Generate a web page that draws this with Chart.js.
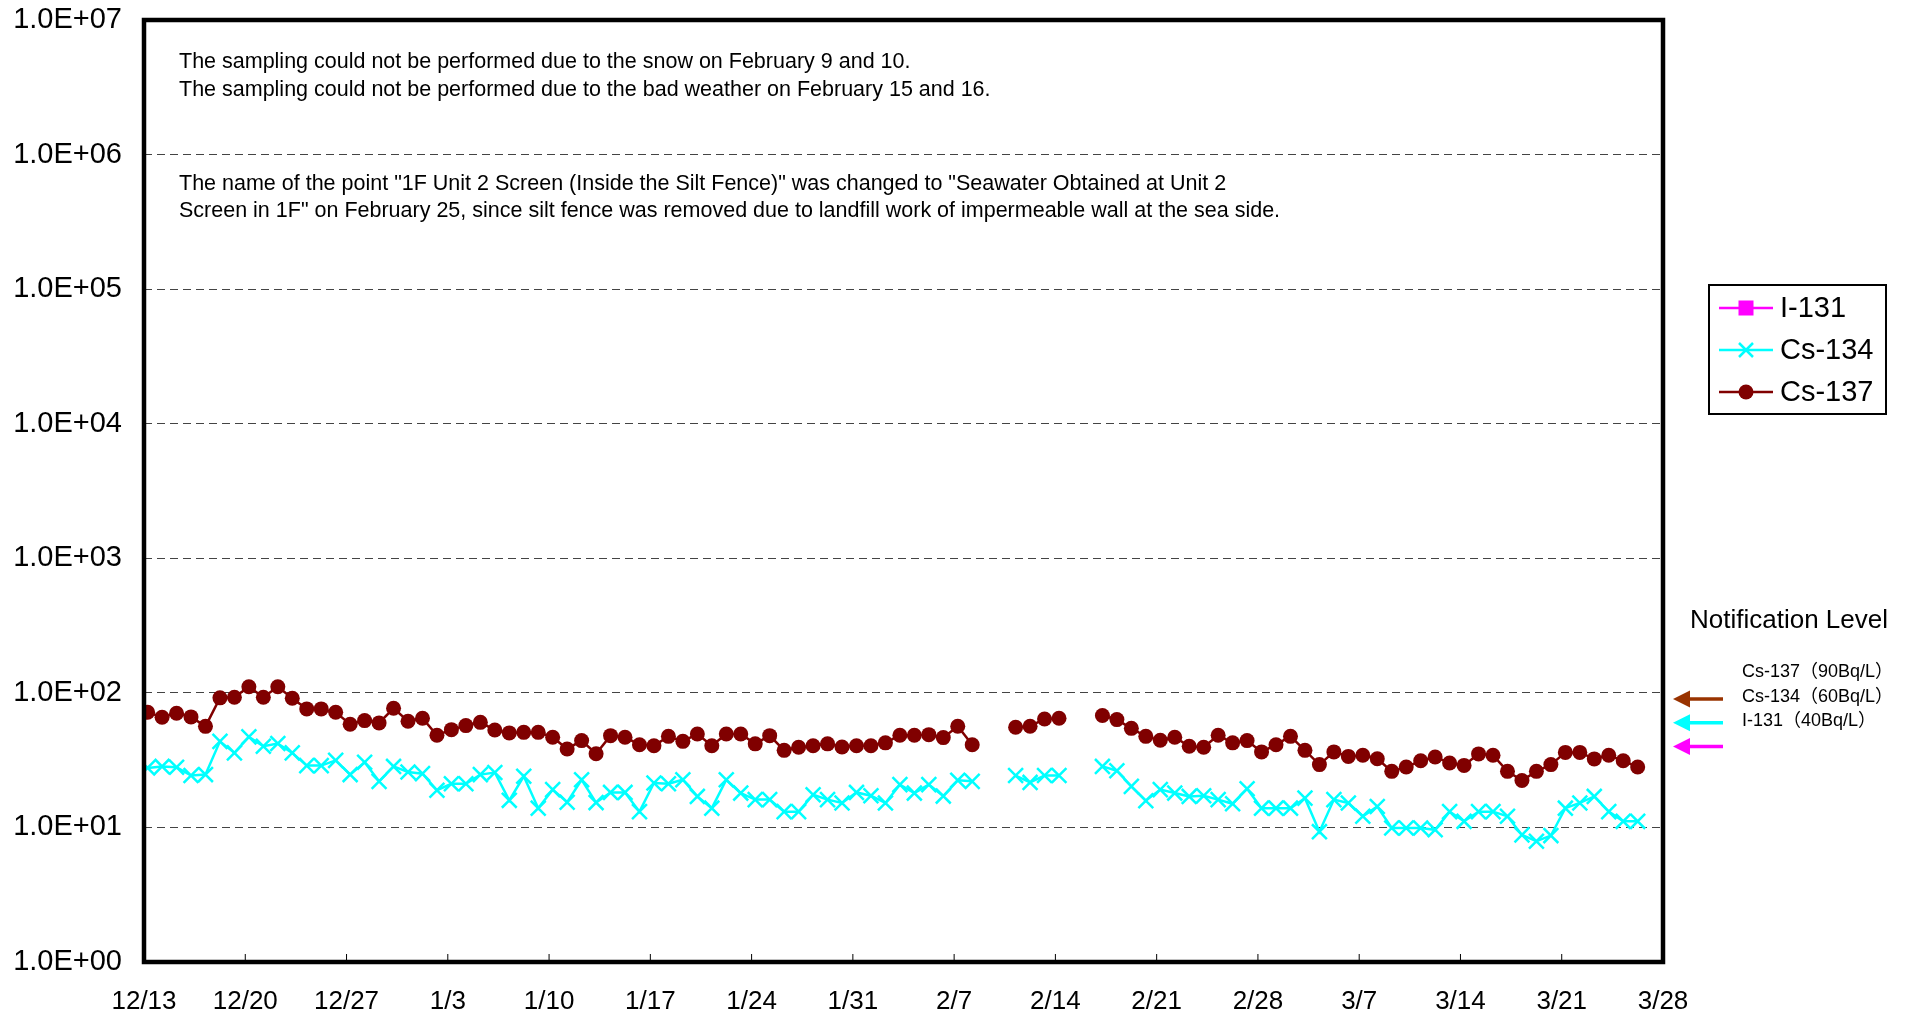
<!DOCTYPE html>
<html>
<head>
    <title>Seawater Obtained at Unit 2 Screen in 1F</title>
    <style>
        body { margin: 0; background: #fff; }
        #wrap { width: 1910px; height: 1018px; }
    </style>
    <script src="https://cdn.jsdelivr.net/npm/chart.js"></script>
</head>
<body>
    <div id="wrap"><canvas id="radChart" width="1910" height="1018"></canvas></div>

    <script>
        // weekly axis labels, 12/13 .. 3/28 (one every 7 days)
        const tickLabels = ['12/13', '12/20', '12/27', '1/3', '1/10', '1/17', '1/24', '1/31',
            '2/7', '2/14', '2/21', '2/28', '3/7', '3/14', '3/21', '3/28'];
        const daysPerTick = 7;
        const sampleHour = 0.25; // samples taken in the morning (fraction of a day)

        // sampling dates, 12/13 .. 3/26
        const sampleDates = [
            '12/13', '12/14', '12/15', '12/16', '12/17', '12/18', '12/19', '12/20', '12/21', '12/22',
            '12/23', '12/24', '12/25', '12/26', '12/27', '12/28', '12/29', '12/30', '12/31', '1/1',
            '1/2', '1/3', '1/4', '1/5', '1/6', '1/7', '1/8', '1/9', '1/10', '1/11',
            '1/12', '1/13', '1/14', '1/15', '1/16', '1/17', '1/18', '1/19', '1/20', '1/21',
            '1/22', '1/23', '1/24', '1/25', '1/26', '1/27', '1/28', '1/29', '1/30', '1/31',
            '2/1', '2/2', '2/3', '2/4', '2/5', '2/6', '2/7', '2/8', '2/9', '2/10',
            '2/11', '2/12', '2/13', '2/14', '2/15', '2/16', '2/17', '2/18', '2/19', '2/20',
            '2/21', '2/22', '2/23', '2/24', '2/25', '2/26', '2/27', '2/28', '3/1', '3/2',
            '3/3', '3/4', '3/5', '3/6', '3/7', '3/8', '3/9', '3/10', '3/11', '3/12',
            '3/13', '3/14', '3/15', '3/16', '3/17', '3/18', '3/19', '3/20', '3/21', '3/22',
            '3/23', '3/24', '3/25', '3/26'
        ];

        // Bq/L, null = not sampled (snow 2/9-2/10, bad weather 2/15-2/16)
        const i131 = sampleDates.map(() => null); // all below detection limit

        const cs134 = [
            27.7, 28.4, 28.0, 24.3, 24.7, 43.6, 35.8, 47.1, 40.1, 42.0,
            35.8, 28.8, 28.8, 31.5, 24.7, 30.5, 22.0, 28.4, 25.8, 25.1,
            18.9, 21.1, 21.1, 24.7, 25.6, 15.9, 24.0, 13.9, 19.1, 15.4,
            22.6, 15.3, 18.2, 18.2, 13.1, 21.4, 21.1, 22.6, 17.0, 13.9,
            22.6, 18.0, 16.1, 16.1, 13.1, 13.1, 17.5, 16.1, 15.2, 18.2,
            17.2, 15.2, 20.8, 18.0, 20.8, 17.1, 22.4, 22.0, null, null,
            24.3, 21.6, 24.3, 24.3, null, null, 28.4, 26.4, 20.2, 15.8,
            19.1, 18.0, 17.0, 17.2, 16.1, 15.0, 19.4, 13.9, 13.9, 13.9,
            16.5, 9.3, 16.1, 15.2, 12.1, 14.3, 9.9, 9.9, 9.9, 9.6,
            13.1, 11.1, 13.1, 13.1, 12.1, 8.8, 7.9, 8.7, 13.9, 15.2,
            17.0, 13.1, 11.1, 11.1
        ];

        const cs137 = [
            71.7, 65.9, 70.5, 66.3, 56.4, 91.8, 92.8, 111, 92.8, 111,
            91.2, 76.0, 76.0, 71.7, 58.5, 62.2, 59.8, 76.8, 61.5, 64.8,
            48.4, 53.3, 57.1, 60.4, 53.0, 50.4, 50.9, 50.9, 46.8, 38.3,
            44.2, 35.3, 48.1, 46.8, 41.2, 40.5, 47.5, 43.6, 49.5, 40.5,
            49.5, 49.5, 41.8, 48.1, 37.4, 39.4, 40.5, 41.8, 39.6, 40.5,
            40.5, 42.5, 48.4, 48.4, 48.9, 46.5, 56.5, 41.2, null, null,
            55.5, 56.5, 64.0, 64.8, null, null, 67.8, 63.3, 54.5, 47.5,
            44.4, 46.8, 40.1, 39.4, 48.4, 42.5, 44.2, 36.4, 41.2, 47.5,
            37.4, 29.3, 36.4, 33.7, 34.4, 32.4, 26.1, 28.1, 31.3, 33.4,
            30.1, 28.9, 35.2, 34.4, 26.1, 22.3, 26.1, 29.3, 36.1, 36.1,
            32.3, 34.4, 31.3, 28.1
        ];

        const seriesNames = ['I-131', 'Cs-134', 'Cs-137'];
        const notifyLabels = ['Cs-137（90Bq/L）', 'Cs-134（60Bq/L）', 'I-131（40Bq/L）'];
        const notifyValues = [90, 60, 40];

        const notes = [
            'The sampling could not be performed due to the snow on February 9 and 10.',
            'The sampling could not be performed due to the bad weather on February 15 and 16.',
            'The name of the point "1F Unit 2 Screen (Inside the Silt Fence)" was changed to "Seawater Obtained at Unit 2',
            'Screen in 1F" on February 25, since silt fence was removed due to landfill work of impermeable wall at the sea side.'
        ];

        const FONT = "'Liberation Sans', Arial, sans-serif";
        const colors = { i131: '#FF00FF', cs134: '#00FFFF', cs137: '#800000', arrow137: '#993300' };

        const toPoints = arr => arr.map((v, i) => ({ x: i + sampleHour, y: v }));

        function arrow(ctx, xTip, yMid, color) {
            ctx.fillStyle = color;
            ctx.strokeStyle = color;
            ctx.lineWidth = 3.5;
            ctx.beginPath();
            ctx.moveTo(xTip + 12, yMid);
            ctx.lineTo(xTip + 50, yMid);
            ctx.stroke();
            ctx.beginPath();
            ctx.moveTo(xTip, yMid);
            ctx.lineTo(xTip + 17, yMid - 8.5);
            ctx.lineTo(xTip + 17, yMid + 8.5);
            ctx.closePath();
            ctx.fill();
        }

        function marker(ctx, style, cx, cy, color) {
            ctx.fillStyle = color;
            ctx.strokeStyle = color;
            if (style === 'rect') {
                ctx.fillRect(cx - 7.5, cy - 7.5, 15, 15);
            } else if (style === 'circle') {
                ctx.beginPath();
                ctx.arc(cx, cy, 7.5, 0, Math.PI * 2);
                ctx.fill();
            } else {
                ctx.lineWidth = 2.5;
                ctx.beginPath();
                ctx.moveTo(cx - 7, cy - 7); ctx.lineTo(cx + 7, cy + 7);
                ctx.moveTo(cx + 7, cy - 7); ctx.lineTo(cx - 7, cy + 7);
                ctx.stroke();
            }
        }

        const decorPlugin = {
            id: 'decor',
            afterDraw(chart) {
                const { ctx, chartArea: a, scales: { x, y } } = chart;
                ctx.save();

                // plot frame
                ctx.strokeStyle = '#000';
                ctx.lineWidth = 4.5;
                ctx.strokeRect(a.left, a.top, a.right - a.left, a.bottom - a.top);

                // inside tick marks on the date axis
                ctx.lineWidth = 1;
                x.ticks.forEach(t => {
                    const px = x.getPixelForValue(t.value);
                    ctx.beginPath();
                    ctx.moveTo(px, a.bottom);
                    ctx.lineTo(px, a.bottom - 8);
                    ctx.stroke();
                });

                // notes
                ctx.fillStyle = '#000';
                ctx.font = '21.5px ' + FONT;
                ctx.textAlign = 'left';
                ctx.textBaseline = 'middle';
                const noteRows = [62, 90, 184, 211];
                notes.forEach((t, i) => ctx.fillText(t, a.left + 35, noteRows[i]));

                // legend
                const lx = a.right + 46, ly = 285, lw = 177, lh = 129;
                ctx.fillStyle = '#fff';
                ctx.fillRect(lx, ly, lw, lh);
                ctx.strokeStyle = '#000';
                ctx.lineWidth = 2;
                ctx.strokeRect(lx, ly, lw, lh);
                const legendColors = [colors.i131, colors.cs134, colors.cs137];
                const legendStyles = ['rect', 'cross', 'circle'];
                const legendRows = [308, 350, 392];
                seriesNames.forEach((name, i) => {
                    const cy = legendRows[i];
                    ctx.strokeStyle = legendColors[i];
                    ctx.lineWidth = 2.5;
                    ctx.beginPath();
                    ctx.moveTo(lx + 10, cy);
                    ctx.lineTo(lx + 64, cy);
                    ctx.stroke();
                    marker(ctx, legendStyles[i], lx + 37, cy, legendColors[i]);
                    ctx.fillStyle = '#000';
                    ctx.font = '29px ' + FONT;
                    ctx.textBaseline = 'middle';
                    ctx.fillText(name, lx + 71, cy + 1);
                });

                // notification level
                ctx.fillStyle = '#000';
                ctx.font = '26px ' + FONT;
                ctx.fillText('Notification Level', a.right + 27, 621);
                ctx.font = "18px " + FONT + ", 'Noto Sans CJK JP'";
                const notifyRows = [672, 697, 721];
                notifyLabels.forEach((t, i) => ctx.fillText(t, a.right + 79, notifyRows[i]));
                const arrowColors = [colors.arrow137, colors.cs134, colors.i131];
                notifyValues.forEach((v, i) => arrow(ctx, a.right + 10, y.getPixelForValue(v), arrowColors[i]));

                ctx.restore();
            }
        };

        new Chart(document.getElementById('radChart'), {
            type: 'line',
            data: {
                datasets: [
                    {
                        label: seriesNames[0],
                        data: toPoints(i131),
                        borderColor: colors.i131,
                        backgroundColor: colors.i131,
                        pointStyle: 'rect',
                        pointRadius: 7,
                        borderWidth: 2.5
                    },
                    {
                        label: seriesNames[1],
                        data: toPoints(cs134),
                        borderColor: colors.cs134,
                        backgroundColor: colors.cs134,
                        pointStyle: 'crossRot',
                        pointRadius: 10.5,
                        pointBorderWidth: 2.5,
                        borderWidth: 2.5
                    },
                    {
                        label: seriesNames[2],
                        data: toPoints(cs137),
                        borderColor: colors.cs137,
                        backgroundColor: colors.cs137,
                        pointStyle: 'circle',
                        pointRadius: 7.5,
                        pointBorderWidth: 0,
                        borderWidth: 2.5
                    }
                ]
            },
            options: {
                responsive: false,
                animation: false,
                spanGaps: false,
                layout: { padding: { top: 20, right: 247, left: 0, bottom: 0 } },
                plugins: {
                    legend: { display: false },
                    tooltip: { enabled: false }
                },
                elements: { line: { tension: 0 } },
                scales: {
                    x: {
                        type: 'linear',
                        min: 0,
                        max: (tickLabels.length - 1) * daysPerTick,
                        grid: { display: false },
                        border: { display: false },
                        afterBuildTicks: s => { s.ticks = tickLabels.map((_, i) => ({ value: i * daysPerTick })); },
                        afterFit: s => {
                            s.height = 56;
                            s.paddingLeft = 0;
                            s.paddingRight = 0;
                        },
                        ticks: {
                            autoSkip: false,
                            maxRotation: 0,
                            padding: 16,
                            color: '#000',
                            font: { family: FONT, size: 26 },
                            callback: (v, i) => tickLabels[i]
                        }
                    },
                    y: {
                        type: 'logarithmic',
                        min: 1,
                        max: 1e7,
                        afterBuildTicks: s => {
                            s.ticks = [1, 10, 100, 1e3, 1e4, 1e5, 1e6, 1e7].map(v => ({ value: v }));
                        },
                        afterFit: s => {
                            s.width = 144;
                            s.paddingTop = 0;
                            s.paddingBottom = 0;
                        },
                        grid: { color: '#444', lineWidth: 1, drawTicks: false },
                        border: { display: false, dash: [8, 5] },
                        ticks: {
                            padding: 22,
                            color: '#000',
                            font: { family: FONT, size: 29 },
                            callback: v => '1.0E+' + String(Math.round(Math.log10(v))).padStart(2, '0')
                        }
                    }
                }
            },
            plugins: [decorPlugin]
        });
    </script>
</body>
</html>
